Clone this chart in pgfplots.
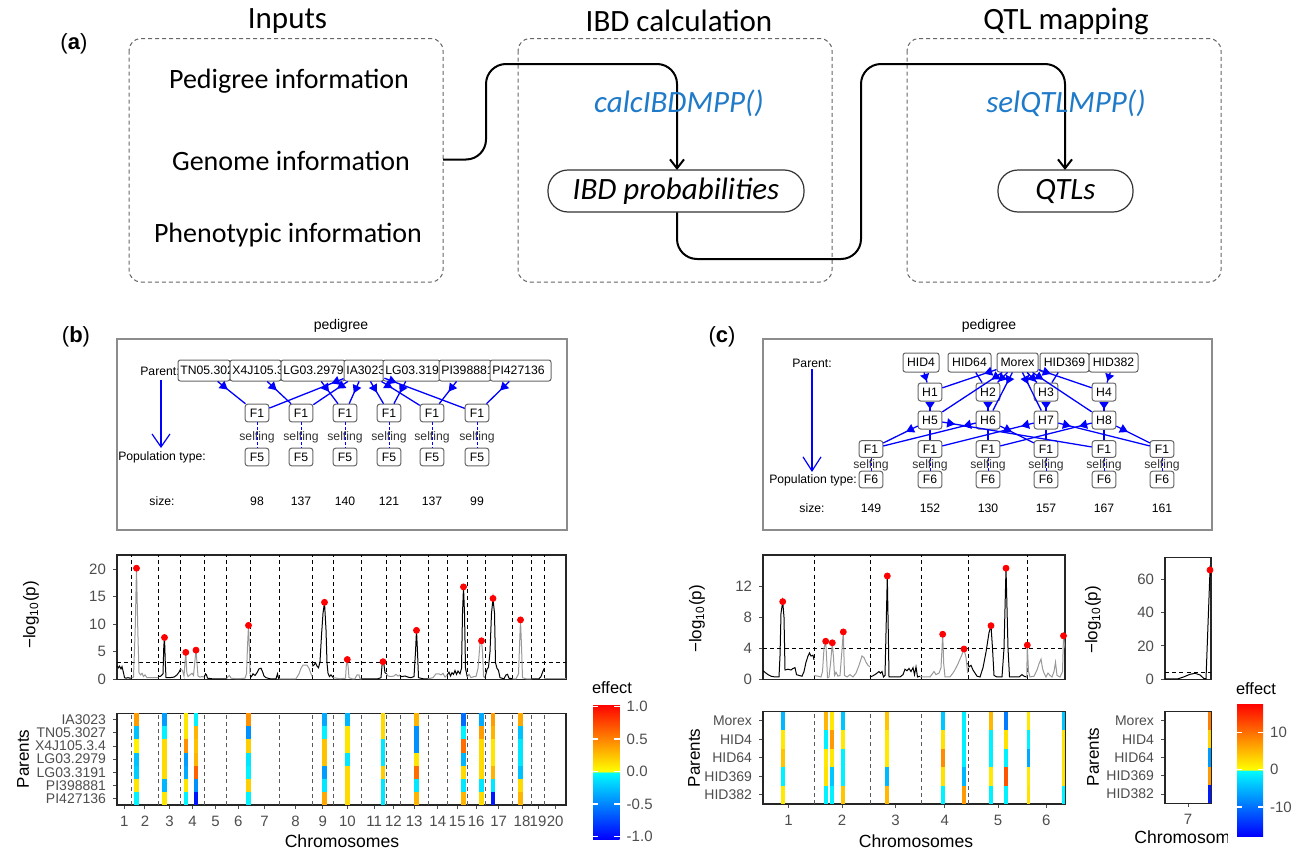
\documentclass[border=0pt]{standalone}
\usepackage{fontspec}
\setmainfont{Liberation Sans}
\newfontfamily\calibri{Carlito}
\usepackage{pgfplots}
\usepackage{pgfplotstable}
\pgfplotsset{compat=1.18}
\usetikzlibrary{arrows.meta,decorations.markings}

\newcommand\fs[1]{\fontsize{#1}{#1}\selectfont}

\definecolor{ggtext}{HTML}{4D4D4D}
\definecolor{fnblue}{HTML}{1F7BC9}
\definecolor{evengray}{HTML}{999999}
\definecolor{boxgray}{HTML}{666666}
\definecolor{pedblue}{HTML}{0000FF}

% heatmap cells: one stripe cell per parent
\pgfdeclareplotmark{cellb}{\pgfpathrectangle{\pgfqpoint{-1.1pt}{-3.3pt}}{\pgfqpoint{2.2pt}{6.6pt}}\pgfusepathqfill}
\pgfdeclareplotmark{cellc}{\pgfpathrectangle{\pgfqpoint{-0.95pt}{-4.62pt}}{\pgfqpoint{1.9pt}{9.24pt}}\pgfusepathqfill}

\tikzset{
  vsep/.style={black, line width=0.5pt, dash pattern=on 2pt off 1.6pt},
  hsep/.style={black!65, line width=0.5pt, dash pattern=on 2pt off 1.6pt},
  pbox/.style={draw=boxgray, fill=white, rounded corners=1.2pt, line width=0.5pt, inner sep=1pt},
  fbox/.style={pbox, minimum width=11.8pt, minimum height=8.8pt, inner sep=0.5pt},
  ped/.style={pedblue, line width=0.65pt, postaction={decorate},
    decoration={markings, mark=at position 6.5pt with {\arrow{Triangle[length=4pt,width=4.5pt]}}}},
  pedv/.style={pedblue, line width=0.65pt, postaction={decorate},
    decoration={markings, mark=at position 0.85 with {\arrow{Triangle[length=3.5pt,width=4.5pt]}}}},
  selfline/.style={pedblue, line width=0.4pt, dash pattern=on 1.5pt off 1pt},
}

\pgfplotsset{
  colormap={effect}{rgb255(0cm)=(0,0,255) rgb255(4.99cm)=(0,255,255) rgb255(5cm)=(255,255,0) rgb255(10cm)=(255,0,0)},
  gg/.style={scale only axis, anchor=south west,
    axis line style={draw=black!85, line width=0.55pt},
    tick style={draw=black!70, line width=0.5pt},
    tick align=outside, major tick length=2pt, tick pos=left,
    tick label style={font=\fs{7.5}, text=ggtext},
    /pgf/number format/assume math mode=true},
  heat/.style={gg, colormap name=effect, clip marker paths=true,
    yticklabel style={font=\fs{7}}},
  chrodd/.style={black, line width=0.5pt, point meta=none},
  chreven/.style={evengray, line width=0.5pt, point meta=none},
  qtlpeak/.style={only marks, mark=*, mark size=1.5pt, red, point meta=none},
  heatcells/.style={scatter, only marks, point meta=explicit, scatter/use mapped color={fill=mapped color}},
  cbar/.style={at={(parent axis.north east)}, anchor=north west, scale only axis,
    tick align=inside, ytick pos=both, yticklabel pos=right, major tick length=2.6pt,
    tick style={draw=white, line width=0.6pt}, axis line style={draw=none},
    yticklabel style={font=\fs{7.5}, text=ggtext}, /pgf/number format/assume math mode=true},
}

% QTL effects, soybean NAM (b)
\pgfplotstableread{
x      IA     TN     X4     L79    L91    PI98   PI36
136.5  0.40  -0.25  0.05  -0.25  -0.20  0.10  -0.05
164.5  -0.40 -0.05  0.15  0.15   0.15   -0.30 0.10
185.8  0.10  0.10   0.45  -0.40  -0.35  0.10  -0.05
196.0  -0.05 0.30   0.25  0.30   0.65   -0.45 -0.95
248.5  0.45  -0.45  0.20  -0.10  -0.05  0.20  -0.05
324.5  -0.35 -0.05  0.25  0.25   -0.40  -0.10 0.35
347.3  -0.30 0.10   0.10  -0.10  0.15   0.15  0.15
383.0  0.15  0.15   -0.10 -0.10  0.20   -0.10 -0.10
416.5  0.30  -0.45  -0.45 0.10   0.60   -0.10 0.30
463.5  -0.60 -0.05  0.60  -0.30  0.15   -0.10 0.30
481.5  -0.35 0.40   0.15  0.15   0.15   -0.10 0.15
493.0  0.40  0.30   0.10  0.10   0.30   -0.10 -0.95
520.5  0.35  -0.25  -0.10 -0.10  -0.25  0.15  0.30
}\heatb

% QTL effects, barley (c)
\pgfplotstableread{
x       Morex  HID4  HID64  HID369  HID382
782.7   -5     1.5   4      -1      1.5
825.7   5      -1    1.5    2       -1
832.3   1.5    7     1.5    -4      -1
843.3   -4     1.5   -1     -1      4
887.3   4      1.5   1.5    -5      5
942.7   -4     2     8      2       -1
964.0   -1     -1    -1     -5      7
991.0   5      -1    -1     1.5     -1
1006.0  -9     2     -1     12      -1
1028.5  1.5    -1    -6     1.5     2
1063.5  -4     2     2      2       -1
}\heatc

\pgfplotstableread{
x       Morex  HID4  HID64  HID369  HID382
1209.5  9      3     -7     7       -16
}\heatcseven

\newcommand\pedparent[6]{%
  \pgfmathsetmacro\pcx{(#2+#3)/2}\pgfmathsetmacro\pcy{(#4+#5)/2}%
  \pgfmathsetmacro\pw{(#3-#2)*0.5}\pgfmathsetmacro\ph{(#5-#4)*0.5}%
  \draw[pbox] (#2,#4) rectangle (#3,#5);
  \node[anchor=west, inner sep=0pt] at (#2+2,\pcy) {#6};
  \node[inner sep=0pt, minimum width=\pw pt, minimum height=\ph pt] (#1) at (\pcx,\pcy) {};
}

\begin{document}
\begin{tikzpicture}
\begin{scope}[x=0.5pt,y=-0.5pt]
\path[use as bounding box] (0,0) rectangle (1300,851);

% ---------------- (a) workflow ----------------
\node[font=\fs{11}] at (74,44) {(\textbf{a})};
\begin{scope}[font=\calibri\fs{14}]
  \node at (287.5,21) {\fs{15.5}Inputs};
  \node at (679,21) {\fs{15.5}IBD calculation};
  \node at (1066,21) {\fs{15.5}QTL mapping};
  \foreach \a/\b in {129/443, 518/832, 907/1221}
    \draw[boxgray, line width=0.5pt, dash pattern=on 2pt off 1.5pt, rounded corners=6pt] (\a,38.5) rectangle (\b,282);
  \node at (289,81) {Pedigree information};
  \node at (291,161) {Genome information};
  \node at (288,235) {Phenotypic information};
  \draw[line width=1pt, rounded corners=10pt, -{Straight Barb[length=4.5pt,width=7pt]}]
    (443,159.5) -- (486,159.5) -- (486,64) -- (677,64) -- (677,170);
  \draw[line width=1pt, rounded corners=10pt, -{Straight Barb[length=4.5pt,width=7pt]}]
    (677,212) -- (677,259) -- (861,259) -- (861,64) -- (1065,64) -- (1065,170);
  \node[text=fnblue] at (679,103) {\fs{15.5}\itshape calcIBDMPP()};
  \node[text=fnblue] at (1066,103) {\fs{15.5}\itshape selQTLMPP()};
  \node[draw=black!80, line width=0.6pt, rounded corners=10pt, minimum width=128pt, minimum height=21pt, fill=white] at (676,191) {\fs{15.5}\itshape IBD probabilities};
  \node[draw=black!80, line width=0.6pt, rounded corners=10pt, minimum width=67.5pt, minimum height=21pt, fill=white] at (1065.5,191) {\fs{15.5}\itshape QTLs};
\end{scope}

% ---------------- (b) pedigree ----------------
\node[font=\fs{11}] at (76,337) {(\textbf{b})};
\begin{scope}[font=\fs{6.1}]
  \node[font=\fs{7}] at (341,326) {pedigree};
  \draw[black!45, line width=0.6pt] (117,339) rectangle (567,530);
  \node at (160,371) {Parent:};
  \pedparent{P1}{178}{230}{360}{381}{TN05.3027}
  \pedparent{P2}{230}{281}{360}{381}{X4J105.3.4}
  \pedparent{P3}{281}{345}{360}{381}{LG03.2979}
  \pedparent{P4}{344}{384}{360}{381}{IA3023}
  \pedparent{P5}{383}{440}{360}{381}{LG03.3191}
  \pedparent{P6}{439}{491}{360}{381}{PI398881}
  \pedparent{P7}{490}{551}{360}{381}{PI427136}
  \foreach \x [count=\i] in {257,301,345,389,432,477} {
    \node[fbox] (bF\i) at (\x,413) {F1};
    \node[fbox] (bG\i) at (\x,457) {F5};
    \draw[selfline] (bF\i.south) -- (bG\i.north);
    \node[text=black!80] at (\x,437) {selfing};
  }
  \foreach \p/\f in {1/1,2/2,3/3,5/4,6/5,7/6,4/1,4/2,4/3,4/4,4/5,4/6}
    \draw[ped] (P\p) -- (bF\f);
  \node at (162,457) {Population type:};
  \node at (162,501) {size:};
  \foreach \x/\s in {257/98,301/137,345/140,389/121,432/137,477/99}
    \node at (\x,501) {\s};
  \draw[pedblue, line width=0.6pt, -{Straight Barb[length=6.5pt,width=9pt]}] (161,380) -- (161,448);
\end{scope}

% ---------------- (c) pedigree ----------------
\node[font=\fs{11}] at (722,337) {(\textbf{c})};
\begin{scope}[font=\fs{6.1}]
  \node[font=\fs{7}] at (989,326) {pedigree};
  \draw[black!45, line width=0.6pt] (763,339) rectangle (1212,530);
  \node at (812,363) {Parent:};
  \node[pbox, minimum width=18pt, minimum height=9.5pt] (cP1) at (921,362.5) {HID4};
  \node[pbox, minimum width=21.5pt, minimum height=9.5pt] (cP2) at (969.5,362.5) {HID64};
  \node[pbox, minimum width=20.5pt, minimum height=9.5pt] (cP3) at (1017.5,362.5) {Morex};
  \node[pbox, minimum width=24.5pt, minimum height=9.5pt] (cP4) at (1064.5,362.5) {HID369};
  \node[pbox, minimum width=24.5pt, minimum height=9.5pt] (cP5) at (1113.5,362.5) {HID382};
  \foreach \x [count=\i] in {930,988,1046,1104} {
    \node[fbox, minimum height=9pt] (cH\i) at (\x,392) {H\i};
    \pgfmathtruncatemacro\j{\i+4}
    \node[fbox, minimum height=9pt] (cK\i) at (\x,420) {H\j};
  }
  \foreach \x [count=\i] in {871,930,988,1046,1104,1162} {
    \node[fbox, minimum height=8.3pt] (cF\i) at (\x,449) {F1};
    \node[fbox, minimum height=8.3pt] (cG\i) at (\x,479.5) {F6};
    \draw[selfline] (cF\i.south) -- (cG\i.north);
    \node[text=black!80] at (\x,465) {selfing};
  }
  \draw[pedv] (cP1) -- (cH1);
  \draw[ped] (cP2) -- (cH2);
  \draw[ped] (cP4) -- (cH3);
  \draw[pedv] (cP5) -- (cH4);
  \foreach \i in {1,...,4} {
    \draw[ped] (cP3) -- (cH\i);
    \draw[pedv] (cH\i) -- (cK\i);
    \draw[ped] (cP3) -- (cK\i);
  }
  \foreach \h/\f in {1/1,2/1,1/2,3/2,2/3,4/3,3/4,2/4,4/5,1/5,3/6,4/6}
    \draw[ped] (cK\h) -- (cF\f);
  \node[fill=white, inner sep=0.5pt] at (813,480) {Population type:};
  \node at (812,508) {size:};
  \foreach \x/\s in {871/149,930/152,988/130,1046/157,1104/167,1162/161}
    \node at (\x,508) {\s};
  \draw[pedblue, line width=0.6pt, -{Straight Barb[length=7pt,width=9pt]}] (812,369) -- (812,472);
\end{scope}

% ---------------- axis titles ----------------
\begin{scope}[font=\fs{8.5}]
  \node[rotate=90] at (31,615) {−log\textsubscript{10}(p)};
  \node[rotate=90] at (697,619) {−log\textsubscript{10}(p)};
  \node[rotate=90] at (1093,620) {−log\textsubscript{10}(p)};
  \node[rotate=90, font=\fs{8.5}] at (23,759) {Parents};
  \node[rotate=90, font=\fs{8.5}] at (694,758) {Parents};
  \node[rotate=90, font=\fs{8.5}] at (1093,757) {Parents};
  \node[font=\fs{8.8}] at (342,841) {Chromosomes};
  \node[font=\fs{8.8}] at (916,841) {Chromosomes};
  \begin{scope}
    \clip (1100,820) rectangle (1227,851);
    \node[font=\fs{8.8}, anchor=west, inner sep=0pt] at (1134,837) {Chromosomes};
  \end{scope}
  \node[font=\fs{8.2}] at (612,688) {effect};
  \node[font=\fs{8.2}] at (1256,689) {effect};
\end{scope}
\end{scope}

% ---------------- (b) -log10(p) ----------------
\begin{axis}[gg, at={(58.5pt,-339.65pt)}, width=224.5pt, height=62.15pt,
  xmin=117, xmax=566, ymin=0, ymax=22.6, xtick=\empty, ytick={0,5,10,15,20}]
  \pgfplotsinvokeforeach{131.7,158.3,180.7,204.3,226.7,250,279,312.3,333.3,361.7,386.7,400,428.3,447.3,467.3,485,512.3,531.7,544.3}{
    \draw[vsep] (axis cs:#1,0) -- (axis cs:#1,22.6);}
  \draw[vsep] (axis cs:117,3) -- (axis cs:566,3);
  \addplot[chrodd] coordinates {(117,2.4) (118.5,2.1) (119.5,2.4) (121,1.9) (122,2.3) (123.5,1.2) (124.5,0.3) (126,0.2) (128,0.3) (130,0.2) (131.7,0.2)};
  \addplot[chreven] coordinates {(131.7,0.3) (133.5,0.4) (135.2,9) (136.5,20.2) (137.8,9) (139,1.2) (140.5,0.8) (142,1.1) (143.5,0.5) (145,0.8) (147,0.3) (150,0.3) (154,0.3) (158.3,0.3)};
  \addplot[chrodd] coordinates {(158.3,0.6) (160,0.5) (161.5,0.7) (163,1) (163.8,6) (164.5,7.6) (165.3,3) (166,0.3) (170,0.3) (174,0.4) (177,0.8) (179,1.3) (180.7,1.9)};
  \addplot[chreven] coordinates {(180.7,1.9) (182.5,1.6) (184,0.6) (185,3) (185.8,4.9) (186.8,1.2) (188,0.5) (190,0.8) (192,1.1) (193.5,0.7) (195,3.5) (196,5.3) (197,3) (198,0.6) (200,0.4) (202,0.5) (204.3,0.4)};
  \addplot[chrodd] coordinates {(204.3,0.4) (205.5,1) (206.5,0.8) (207.5,0.2) (212,0.1) (220,0.1) (226.7,0.1)};
  \addplot[chreven] coordinates {(226.7,0.1) (228,0.5) (229.5,0.7) (231,0.2) (238,0.1) (245,0.2) (246.5,1) (247.5,6) (248.5,9.8) (249.5,5) (250,1)};
  \addplot[chrodd] coordinates {(250,0.8) (251.5,0.5) (253,1) (255,0.7) (257,1.2) (259,1.9) (261,2) (262.5,1.4) (264,0.6) (266,0.3) (270,0.1) (276,0.1) (277.5,1) (278.5,0.2) (279,0.1)};
  \addplot[chreven] coordinates {(279,0.1) (290,0.1) (296,0.1) (299,1) (301,2) (303,2.6) (307,2.6) (309,2) (311,1) (312.3,0.5)};
  \addplot[chrodd] coordinates {(312.3,2.4) (314,2.6) (315.5,3) (317,2.4) (318.5,2.1) (320,3.2) (321.5,8) (323,12) (324.5,14) (326,9) (327,3) (328,1.1) (329.5,0.5) (331,0.8) (333.3,0.3)};
  \addplot[chreven] coordinates {(333.3,0.3) (340,0.1) (345.5,0.2) (346.3,2.5) (347.3,3.6) (348.3,2) (349,0.3) (352,0.1) (355,0.1) (357,0.8) (359,0.8) (360,0.1) (361.7,0.1)};
  \addplot[chrodd] coordinates {(361.7,0.1) (370,0.1) (378,0.1) (381,0.3) (382,2.5) (383,3.2) (384,2.6) (385,1.2) (386.7,1)};
  \addplot[chreven] coordinates {(386.7,1) (388,0.6) (391,0.5) (394,0.6) (396,0.9) (398,0.6) (400,0.8)};
  \addplot[chrodd] coordinates {(400,0.6) (402,0.5) (405,0.6) (408,0.4) (411,0.3) (414,0.5) (415.5,5) (416.5,8.9) (417.5,5) (418.5,0.3) (423,0.1) (428.3,0.1)};
  \addplot[chreven] coordinates {(428.3,0.1) (433,0.3) (436,1) (439,1) (441,0.8) (443,1.1) (445,0.4) (447.3,0.8)};
  \addplot[chrodd] coordinates {(447.3,0.8) (449,1.3) (450.5,0.6) (452,1.2) (453.5,0.9) (455,1.6) (456.5,0.9) (458,1.5) (460,1) (461.5,2) (462.5,12) (463.5,16.8) (464.5,12) (465.5,2) (467.3,0.4)};
  \addplot[chreven] coordinates {(467.3,0.4) (469,0.9) (471,0.3) (474,0.5) (476,0.5) (478,2) (480,6.5) (481.5,7) (482.5,5) (483.5,0.5) (485,0.3)};
  \addplot[chrodd] coordinates {(485,0.3) (487,1.8) (488.5,2.2) (490,5) (491.5,12) (493,14.7) (494.5,12) (495.5,3) (497,2) (498.5,1.6) (500,0.3) (504,0.1) (506,0.8) (507.5,0.9) (509,0.2) (512.3,0.1)};
  \addplot[chreven] coordinates {(512.3,0.1) (516,0.1) (518.5,1) (519.5,6) (520.5,10.8) (521.5,6) (522.5,0.3) (526,0.1) (531.7,0.1)};
  \addplot[chrodd] coordinates {(531.7,0.1) (539,0.1) (541,0.5) (543,1.5) (544.3,2)};
  \addplot[chreven] coordinates {(544.3,0.1) (566,0.1)};
  \addplot[qtlpeak] coordinates {(136.5,20.2) (164.5,7.6) (185.8,4.9) (196,5.3) (248.5,9.8) (324.5,14) (347.3,3.6) (383,3.2) (416.5,8.9) (463.5,16.8) (481.5,7.0) (493,14.7) (520.5,10.8)};
\end{axis}

% ---------------- (b) effects ----------------
\begin{axis}[heat, at={(58.5pt,-402.5pt)}, width=224.5pt, height=45.85pt,
  xmin=117, xmax=566, ymin=0.5, ymax=7.5,
  xtick={124.35,145,169.5,192.5,215.5,238.35,264.5,295.65,322.8,347.5,374.2,393.35,414.15,437.8,457.3,476.15,498.65,522,538,555.15},
  xticklabels={1,2,3,4,5,6,7,8,9,10,11,12,13,14,15,16,17,18,19,20},
  ytick={1,2,3,4,5,6,7},
  yticklabels={PI427136,PI398881,LG03.3191,LG03.2979,X4J105.3.4,TN05.3027,IA3023},
  point meta min=-1.04, point meta max=1.04,
  colorbar,
  colorbar style={cbar, xshift=5pt, yshift=4.65pt, width=13.3pt, height=67.5pt,
    ytick={-1,-0.5,0,0.5,1}, yticklabels={-1.0,-0.5,0.0,0.5,1.0}}]
  \pgfplotsinvokeforeach{131.7,158.3,180.7,204.3,226.7,250,279,312.3,333.3,361.7,386.7,400,428.3,447.3,467.3,485,512.3,531.7,544.3}{
    \draw[hsep] (axis cs:#1,0.5) -- (axis cs:#1,7.5);}
  \addplot[heatcells, mark=cellb] table[x=x, y expr=7, meta=IA] {\heatb};
  \addplot[heatcells, mark=cellb] table[x=x, y expr=6, meta=TN] {\heatb};
  \addplot[heatcells, mark=cellb] table[x=x, y expr=5, meta=X4] {\heatb};
  \addplot[heatcells, mark=cellb] table[x=x, y expr=4, meta=L79] {\heatb};
  \addplot[heatcells, mark=cellb] table[x=x, y expr=3, meta=L91] {\heatb};
  \addplot[heatcells, mark=cellb] table[x=x, y expr=2, meta=PI98] {\heatb};
  \addplot[heatcells, mark=cellb] table[x=x, y expr=1, meta=PI36] {\heatb};
\end{axis}

% ---------------- (c) -log10(p), chromosomes 1-6 ----------------
\begin{axis}[gg, at={(381.5pt,-339.65pt)}, width=151pt, height=62.15pt,
  xmin=763, xmax=1065, ymin=0, ymax=16, xtick=\empty, ytick={0,4,8,12}]
  \pgfplotsinvokeforeach{814,870,921,968.5,1027.5}{
    \draw[vsep] (axis cs:#1,0) -- (axis cs:#1,16);}
  \draw[vsep] (axis cs:763,4) -- (axis cs:1065,4);
  \addplot[chrodd] coordinates {(763,1.1) (765,0.9) (768,0.6) (771,0.4) (775,0.3) (779,0.3) (780,3) (781,8.5) (782.7,10) (784,8) (785,1.2) (788,1.3) (791,1.2) (793,1.4) (795,1.5) (796.5,0.6) (799,0.5) (802,0.4) (804,1) (806,2.2) (808,3) (809.5,3.4) (811,3) (813,3.1) (814,2.5)};
  \addplot[chreven] coordinates {(814,0.5) (818,0.4) (821,0.3) (822.5,1) (824,4) (825.7,4.9) (826.5,3) (827.5,0.2) (829,0.3) (830.5,2) (832.3,4.7) (833.5,2.8) (834.5,0.5) (836,0.9) (838,0.4) (840,0.5) (841.5,3) (843.3,6.1) (844.5,0.5) (847,0.3) (850,0.6) (853,0.3) (856,0.8) (859,1.8) (862,3) (864,2.8) (866,2.2) (868,1.8) (870,1.6)};
  \addplot[chrodd] coordinates {(870,0.3) (872,0.4) (875,0.6) (877,0.8) (879,1) (880.5,0.8) (882,1) (883.5,0.3) (885,0.5) (886,6) (887.3,13.3) (888.3,6) (889,0.3) (895,0.3) (900,0.3) (903,0.6) (905,1.3) (907,1.1) (909,1.4) (911,1) (913,1.5) (914.5,0.6) (916,1.6) (917.5,0.3) (920,0.4)};
  \addplot[chreven] coordinates {(920,0.3) (925,0.3) (930,0.3) (934,1) (936,0.6) (939,0.8) (941,1.5) (942.7,5.8) (943.7,2) (945,0.3) (950,0.3) (954,1) (958,2) (962,3.2) (964,3.9) (966,2.8) (967.7,0.8)};
  \addplot[chrodd] coordinates {(967.7,2.1) (969,1.6) (971,1.8) (973,1.2) (975,0.8) (977,0.4) (980,0.3) (983,1.5) (986,3.5) (989,6) (991,6.9) (992.5,4) (994,0.5) (997,0.3) (1002,0.3) (1004,4) (1006,14.3) (1008,4) (1009.5,0.3) (1014,0.3) (1019,0.3) (1022,0.6) (1024,0.4) (1026.7,0.3)};
  \addplot[chreven] coordinates {(1026.7,0.2) (1027.3,4.4) (1028.5,1) (1030,0.3) (1034,0.4) (1037,1.2) (1039,2) (1041,2.6) (1042.5,1.4) (1044,0.8) (1046,0.3) (1048,0.8) (1050,0.5) (1052,0.3) (1054,1) (1055.5,2.2) (1057,0.5) (1060,0.3) (1062.5,1) (1063.5,5.6) (1065,4)};
  \addplot[qtlpeak] coordinates {(782.7,10) (825.7,4.9) (832.3,4.7) (843.3,6.1) (887.3,13.3) (942.7,5.8) (964,3.9) (991,6.9) (1006,14.3) (1027.3,4.4) (1063.5,5.6)};
\end{axis}

% ---------------- (c) effects, chromosomes 1-6 ----------------
\begin{axis}[heat, at={(381.5pt,-402pt)}, width=151pt, height=46.15pt,
  xmin=763, xmax=1065, ymin=0.5, ymax=5.5,
  xtick={788.5,842,895.5,944.75,998,1046.25}, xticklabels={1,2,3,4,5,6},
  ytick={1,2,3,4,5}, yticklabels={HID382,HID369,HID64,HID4,Morex},
  point meta min=-17.8, point meta max=17.8]
  \pgfplotsinvokeforeach{814,870,921,968.5,1027.5}{
    \draw[hsep] (axis cs:#1,0.5) -- (axis cs:#1,5.5);}
  \addplot[heatcells, mark=cellc] table[x=x, y expr=5, meta=Morex] {\heatc};
  \addplot[heatcells, mark=cellc] table[x=x, y expr=4, meta=HID4] {\heatc};
  \addplot[heatcells, mark=cellc] table[x=x, y expr=3, meta=HID64] {\heatc};
  \addplot[heatcells, mark=cellc] table[x=x, y expr=2, meta=HID369] {\heatc};
  \addplot[heatcells, mark=cellc] table[x=x, y expr=1, meta=HID382] {\heatc};
\end{axis}

% ---------------- (c) chromosome 7 ----------------
\begin{axis}[gg, at={(582.5pt,-339.65pt)}, width=23pt, height=61pt,
  xmin=1165, xmax=1211, ymin=0, ymax=73, xtick=\empty, ytick={0,20,40,60}]
  \draw[vsep] (axis cs:1165,4.2) -- (axis cs:1211,4.2);
  \addplot[chrodd] coordinates {(1165,0.2) (1172,0.2) (1178,0.3) (1184,1.5) (1190,3) (1195,3.6) (1200,2.6) (1204,0.4) (1206,0.3) (1210,65.4) (1211,62)};
  \addplot[qtlpeak] coordinates {(1210,65.4)};
\end{axis}

\begin{axis}[heat, at={(582.5pt,-401.65pt)}, width=23pt, height=45.8pt,
  xmin=1165, xmax=1211, ymin=0.5, ymax=5.5,
  xtick={1188}, xticklabels={7},
  ytick={1,2,3,4,5}, yticklabels={HID382,HID369,HID64,HID4,Morex},
  point meta min=-17.8, point meta max=17.8,
  colorbar,
  colorbar style={cbar, xshift=4.5pt, yshift=4.2pt, width=13pt, height=66.35pt,
    ytick={-10,0,10}}]
  \addplot[heatcells, mark=cellc] table[x=x, y expr=5, meta=Morex] {\heatcseven};
  \addplot[heatcells, mark=cellc] table[x=x, y expr=4, meta=HID4] {\heatcseven};
  \addplot[heatcells, mark=cellc] table[x=x, y expr=3, meta=HID64] {\heatcseven};
  \addplot[heatcells, mark=cellc] table[x=x, y expr=2, meta=HID369] {\heatcseven};
  \addplot[heatcells, mark=cellc] table[x=x, y expr=1, meta=HID382] {\heatcseven};
\end{axis}

\pgfresetboundingbox
\path[use as bounding box] (0pt,0pt) rectangle (650pt,-425.5pt);
\end{tikzpicture}
\end{document}
